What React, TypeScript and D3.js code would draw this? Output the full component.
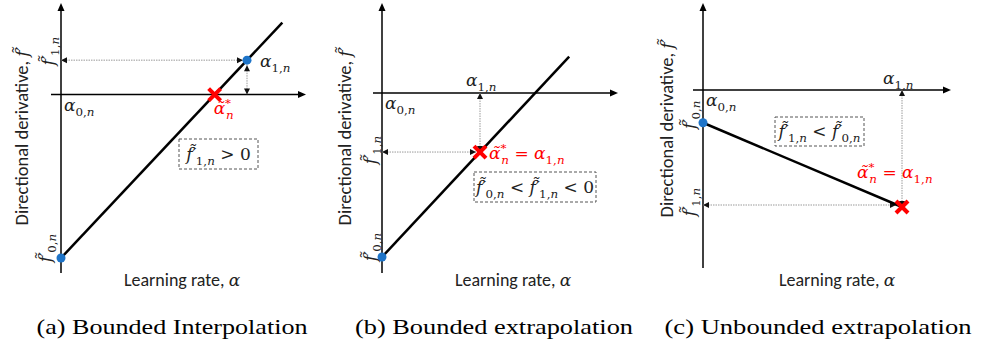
import React from "react";
import * as d3 from "d3";

// ---------- data ----------
const panelIds = ["a", "b", "c"];
const alpha0 = [0, 0, 0];
const alpha1 = [1, 1, 1];
const f0Vals = [-1, -1, -0.28];
const f1Vals = [0.21, -0.36, -1];
const alphaStar = [0.826, 1, 1];
const lineEndAlpha = [1.19, 1.91, 1];
const captions = ["(a) Bounded Interpolation", "(b) Bounded extrapolation", "(c) Unbounded extrapolation"];
const yTitleText = "Directional derivative, ";
const xTitleText = "Learning rate, ";

// ---------- layout ----------
const layout = [
  { ox: 61, x1: 247, oy: 94.5, yNeg1: 258, yTop: 3, yBot: 273, xLeft: 51, xRight: 306, yTitleX: 22, yTitleY: 136, xTitleX: 182, capX: 172, capW: 271 },
  { ox: 382, x1: 480, oy: 93, yNeg1: 257, yTop: 3, yBot: 273, xLeft: 373, xRight: 618, yTitleX: 345, yTitleY: 136, xTitleX: 513, capX: 494, capW: 278 },
  { ox: 703, x1: 902, oy: 90, yNeg1: 207, yTop: 3, yBot: 268, xLeft: 693, xRight: 951, yTitleX: 667, yTitleY: 128, xTitleX: 837, capX: 818, capW: 307 },
];

const MATH_FONT = "'DejaVu Serif', serif";
const SANS = "Carlito, Lato, sans-serif";
const RED = "#ff0000";
const BLUE = "#1e74c8";

type Part = { t: string; it?: boolean; pos?: "sub" | "sup"; dx?: number };

function MathText({ x, y, parts, size = 17, fill = "#222", anchor = "start", rotate = 0 }:
  { x: number; y: number; parts: Part[]; size?: number; fill?: string; anchor?: string; rotate?: number }) {
  let cur = 0;
  const spans = parts.map((p, i) => {
    const target = p.pos === "sub" ? size * 0.3 : p.pos === "sup" ? -size * 0.4 : 0;
    const dy = target - cur;
    cur = target;
    const fs = p.pos ? size * 0.7 : size;
    return (
      <tspan key={i} dy={dy} dx={(p.dx || 0) * size} fontStyle={p.it ? "italic" : "normal"} fontSize={fs}>
        {p.t}
      </tspan>
    );
  });
  return (
    <text transform={`translate(${x},${y}) rotate(${rotate})`} fontFamily={MATH_FONT} fill={fill} textAnchor={anchor}>
      {spans}
    </text>
  );
}

const F_TILDE = "f\u0303";
const A_TILDE = "\u03b1\u0303";
const fPrime = (idx: string): Part[] => [
  { t: F_TILDE + "\u2032", it: true },
  { t: idx + ",", pos: "sub", dx: -0.04 },
  { t: "n", pos: "sub", it: true },
];
const alphaSub = (idx: string): Part[] => [
  { t: "\u03b1", it: true },
  { t: idx + ",", pos: "sub" },
  { t: "n", pos: "sub", it: true },
];
const alphaStarParts: Part[] = [
  { t: A_TILDE, it: true },
  { t: "*", pos: "sup" },
  { t: "n", pos: "sub", it: true, dx: -0.3 },
];

function arrowHead(x: number, y: number, dir: "l" | "r" | "u" | "d", len = 7, half = 3.5) {
  let pts: [number, number][];
  if (dir === "r") pts = [[x, y], [x - len, y - half], [x - len, y + half]];
  else if (dir === "l") pts = [[x, y], [x + len, y - half], [x + len, y + half]];
  else if (dir === "u") pts = [[x, y], [x - half, y + len], [x + half, y + len]];
  else pts = [[x, y], [x - half, y - len], [x + half, y - len]];
  return "M" + pts.map((p) => p.join(",")).join("L") + "Z";
}

function DottedArrow({ x1, y1, x2, y2 }: { x1: number; y1: number; x2: number; y2: number }) {
  const horiz = y1 === y2;
  return (
    <g>
      <line x1={x1} y1={y1} x2={x2} y2={y2} stroke="#9a9a9a" strokeWidth={1} strokeDasharray="1.5,1" />
      <path d={arrowHead(x1, y1, horiz ? (x1 < x2 ? "l" : "r") : (y1 < y2 ? "u" : "d"), 6, 3)} fill="#111" />
      <path d={arrowHead(x2, y2, horiz ? (x2 > x1 ? "r" : "l") : (y2 > y1 ? "d" : "u"), 6, 3)} fill="#111" />
    </g>
  );
}

function RedX({ x, y }: { x: number; y: number }) {
  const h = 6;
  return (
    <g stroke={RED} strokeWidth={4} strokeLinecap="butt">
      <line x1={x - h} y1={y - h} x2={x + h} y2={y + h} />
      <line x1={x - h} y1={y + h} x2={x + h} y2={y - h} />
    </g>
  );
}

function Box({ x, y, w, h, children }: { x: number; y: number; w: number; h: number; children?: React.ReactNode }) {
  return (
    <g>
      <rect x={x} y={y} width={w} height={h} fill="none" stroke="#555" strokeWidth={1} strokeDasharray="3,2" />
      {children}
    </g>
  );
}

function Panel({ i }: { i: number }) {
  const L = layout[i];
  const xs = d3.scaleLinear().domain([0, 1]).range([L.ox, L.x1]);
  const ys = d3.scaleLinear().domain([0, -1]).range([L.oy, L.yNeg1]);
  const slope = (f1Vals[i] - f0Vals[i]) / (alpha1[i] - alpha0[i]);
  const lineData: [number, number][] = [
    [alpha0[i], f0Vals[i]],
    [lineEndAlpha[i], f0Vals[i] + slope * (lineEndAlpha[i] - alpha0[i])],
  ];
  const lineGen = d3.line<[number, number]>().x((d) => xs(d[0])).y((d) => ys(d[1]));
  const X0 = xs(alpha0[i]);
  const X1 = xs(alpha1[i]);
  const Y0 = ys(0);
  const Yf0 = ys(f0Vals[i]);
  const Yf1 = ys(f1Vals[i]);
  const starX = xs(alphaStar[i]);
  const starY = ys(f0Vals[i] + slope * alphaStar[i]);

  return (
    <g>
      {/* axes */}
      <line x1={X0} y1={L.yBot} x2={X0} y2={L.yTop + 6} stroke="#000" strokeWidth={1.5} />
      <path d={arrowHead(X0, L.yTop, "u", 8, 3.5)} fill="#000" />
      <line x1={L.xLeft} y1={Y0} x2={L.xRight - 6} y2={Y0} stroke="#000" strokeWidth={1.5} />
      <path d={arrowHead(L.xRight, Y0, "r", 8, 3.5)} fill="#000" />

      {/* axis titles */}
      <text transform={`translate(${L.yTitleX + 6},${L.yTitleY}) rotate(-90)`} textAnchor="middle" fontFamily={SANS} fontSize={18.5} fill="#222">
        {yTitleText}
        <tspan fontFamily={MATH_FONT} fontStyle="italic" fontSize={17}>{F_TILDE + "\u2032"}</tspan>
      </text>
      <text x={L.xTitleX} y={286} textAnchor="middle" fontFamily={SANS} fontSize={18} fill="#222">
        {xTitleText}
        <tspan fontFamily={MATH_FONT} fontStyle="italic" fontSize={17}>{"\u03b1"}</tspan>
      </text>

      {/* dotted guides */}
      {i === 0 && (
        <g>
          <DottedArrow x1={X0} y1={Yf1} x2={X1 - 4} y2={Yf1} />
          <DottedArrow x1={X1} y1={Yf1 + 5} x2={X1} y2={Y0} />
        </g>
      )}
      {i === 1 && (
        <g>
          <DottedArrow x1={X1} y1={Y0} x2={X1} y2={Yf1} />
          <DottedArrow x1={X0} y1={Yf1} x2={X1 - 4} y2={Yf1} />
        </g>
      )}
      {i === 2 && (
        <g>
          <DottedArrow x1={X1} y1={Y0} x2={X1} y2={Yf1} />
          <DottedArrow x1={X0} y1={Yf1 - 2} x2={X1 - 6} y2={Yf1 - 2} />
        </g>
      )}

      {/* main line */}
      <path d={lineGen(lineData) || ""} fill="none" stroke="#000" strokeWidth={2.5} />

      {/* points */}
      <circle cx={X0} cy={Yf0} r={4.5} fill={BLUE} />
      {i === 0 && <circle cx={X1} cy={Yf1} r={4.5} fill={BLUE} />}
      <RedX x={starX} y={starY} />

      {/* labels */}
      <MathText x={X0 + 3} y={Y0 + 16} parts={alphaSub("0")} />
      {i === 0 && <MathText x={X1 + 13} y={Yf1 + 7} parts={alphaSub("1")} />}
      {i === 1 && <MathText x={X1 - 14} y={Y0 - 7} parts={alphaSub("1")} />}
      {i === 2 && <MathText x={X1 - 19} y={Y0 - 6} parts={alphaSub("1")} />}

      {i === 0 && <MathText x={starX - 1} y={starY + 19} parts={alphaStarParts} fill={RED} />}
      {i === 1 && (
        <MathText x={starX + 9} y={starY + 7} fill={RED}
          parts={[...alphaStarParts, { t: " = " }, ...alphaSub("1")]} />
      )}
      {i === 2 && (
        <MathText x={starX - 45} y={starY - 29} fill={RED}
          parts={[...alphaStarParts, { t: " = " }, ...alphaSub("1")]} />
      )}

      {/* rotated f' labels */}
      {i === 0 && <MathText x={X0 - 7} y={Yf1 - 9} rotate={-90} anchor="middle" parts={fPrime("1")} />}
      <MathText x={X0 - (i === 0 ? 10 : i === 1 ? 6 : 8)} y={Yf0 - (i === 2 ? 8 : 10)} rotate={-90} anchor="middle" parts={fPrime("0")} />
      {i === 1 && <MathText x={X0 - 6} y={Yf1 - 2} rotate={-90} anchor="middle" parts={fPrime("1")} />}
      {i === 2 && <MathText x={X0 - 8} y={Yf1 - 5} rotate={-90} anchor="middle" parts={fPrime("1")} />}

      {/* dashed condition boxes */}
      {i === 0 && (
        <Box x={179} y={139} w={79} h={30}>
          <MathText x={218.5} y={160} anchor="middle" parts={[...fPrime("1"), { t: " > 0" }]} />
        </Box>
      )}
      {i === 1 && (
        <Box x={474} y={172} w={122} h={30}>
          <MathText x={535} y={193} anchor="middle" parts={[...fPrime("0"), { t: " < " }, ...fPrime("1"), { t: " < 0" }]} />
        </Box>
      )}
      {i === 2 && (
        <Box x={775} y={117} w={89} h={29}>
          <MathText x={819.5} y={137} anchor="middle" parts={[...fPrime("1"), { t: " < " }, ...fPrime("0")]} />
        </Box>
      )}

      {/* caption */}
      <text x={L.capX} y={334} textAnchor="middle" fontFamily="'Liberation Serif', serif" fontSize={22}
        textLength={L.capW} lengthAdjust="spacingAndGlyphs" fill="#000">
        {captions[i]}
      </text>
    </g>
  );
}

export default function App() {
  return (
    <svg width={997} height={348} viewBox="0 0 997 348" style={{ display: "block", position: "absolute", left: 0, top: 0, background: "#fff" }}>
      <rect width={997} height={348} fill="#fff" />
      {panelIds.map((id, i) => (
        <Panel key={id} i={i} />
      ))}
    </svg>
  );
}
